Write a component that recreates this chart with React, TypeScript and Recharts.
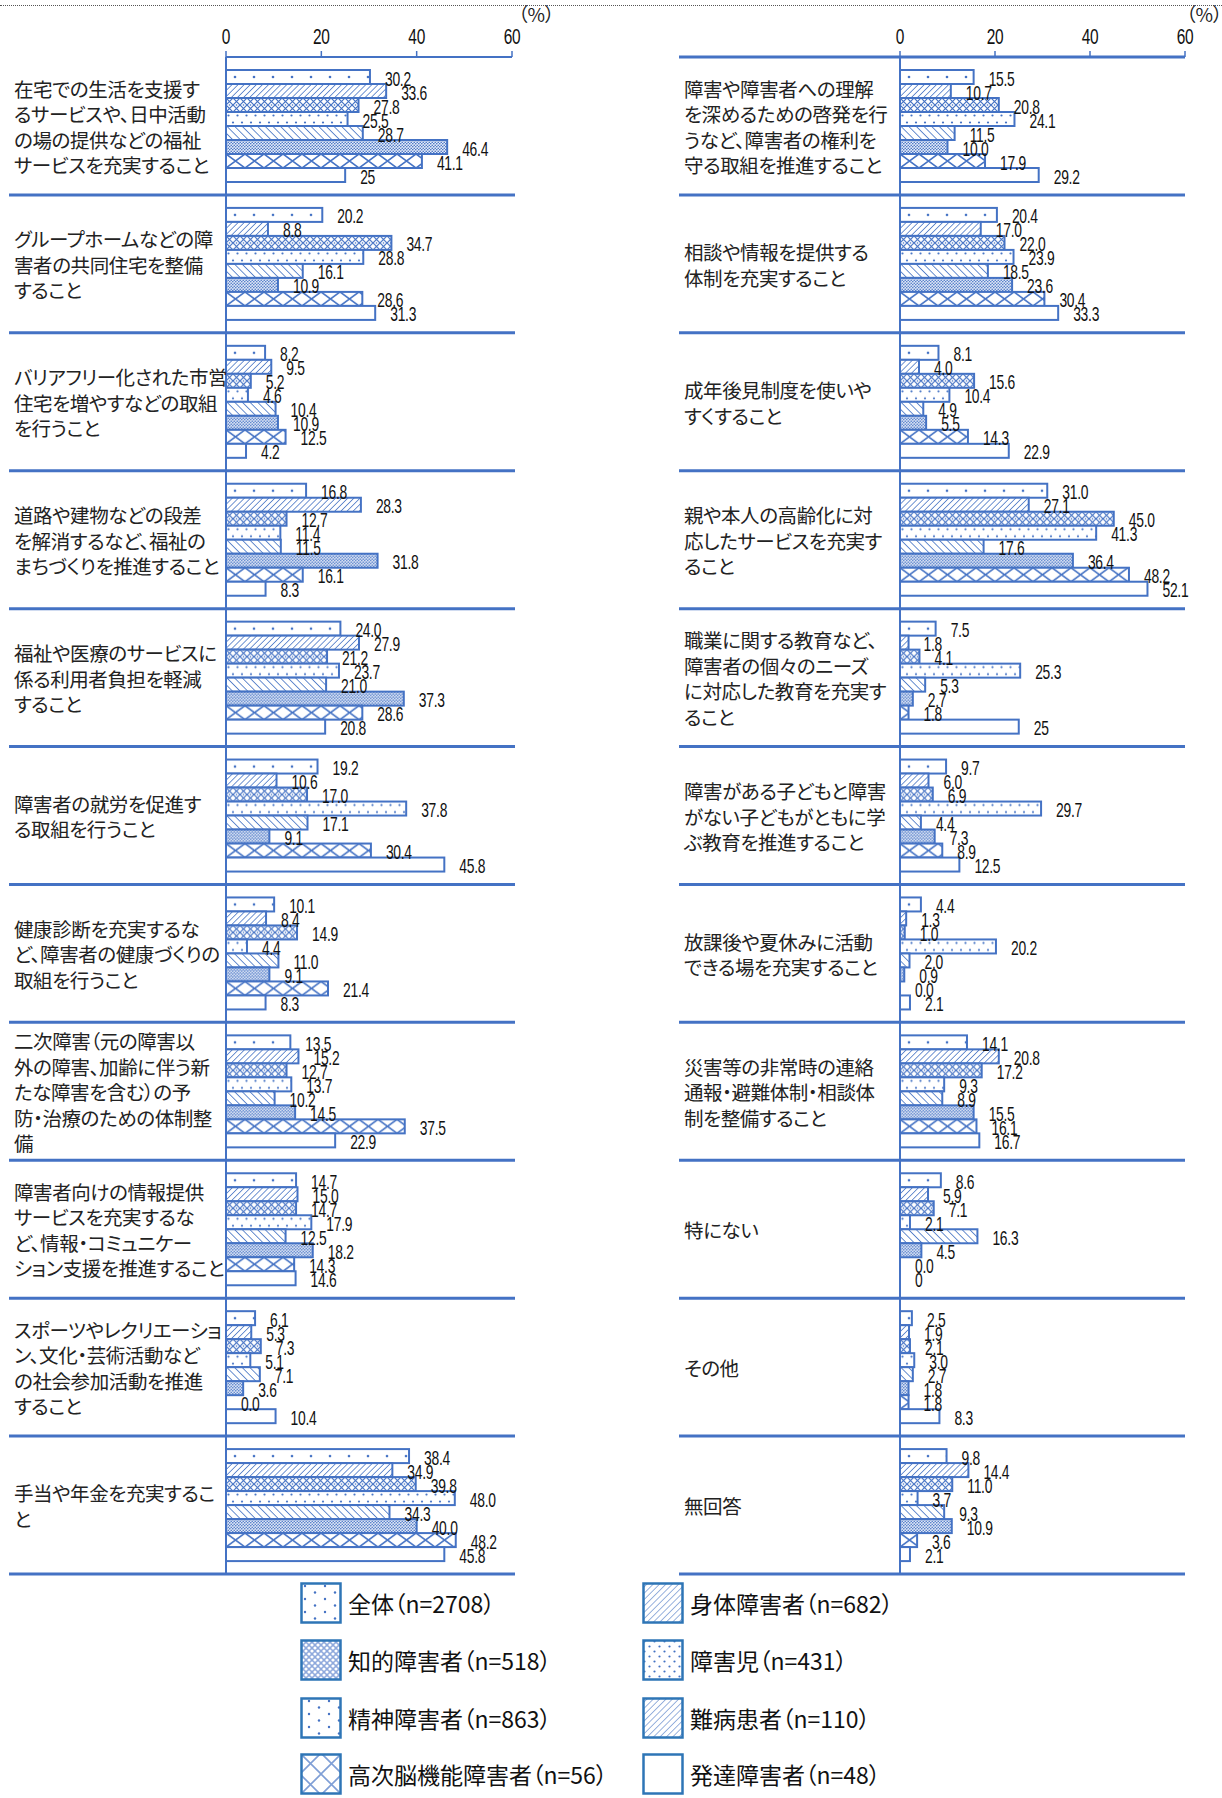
import React from "react";
import { BarChart, Bar, XAxis, YAxis, LabelList } from "recharts";

const BLUE = "#4472C4";
const NUMFONT = "'Liberation Sans', Arial, sans-serif";
const JP = "'Noto Sans CJK JP', 'Noto Sans CJK SC', sans-serif";

const seriesKeys = ["all", "body", "intel", "child", "mental", "rare", "brain", "dev"];
const seriesNames = [
  "全体（n=2708）",
  "身体障害者（n=682）",
  "知的障害者（n=518）",
  "障害児（n=431）",
  "精神障害者（n=863）",
  "難病患者（n=110）",
  "高次脳機能障害者（n=56）",
  "発達障害者（n=48）",
];
const xTicks = [0, 20, 40, 60];

const leftCategories = [
  "在宅での生活を支援す\nるサービスや、日中活動\nの場の提供などの福祉\nサービスを充実すること",
  "グループホームなどの障\n害者の共同住宅を整備\nすること",
  "バリアフリー化された市営\n住宅を増やすなどの取組\nを行うこと",
  "道路や建物などの段差\nを解消するなど、福祉の\nまちづくりを推進すること",
  "福祉や医療のサービスに\n係る利用者負担を軽減\nすること",
  "障害者の就労を促進す\nる取組を行うこと",
  "健康診断を充実するな\nど、障害者の健康づくりの\n取組を行うこと",
  "二次障害（元の障害以\n外の障害、加齢に伴う新\nたな障害を含む）の予\n防・治療のための体制整\n備",
  "障害者向けの情報提供\nサービスを充実するな\nど、情報・コミュニケー\nション支援を推進すること",
  "スポーツやレクリエーショ\nン、文化・芸術活動など\nの社会参加活動を推進\nすること",
  "手当や年金を充実するこ\nと",
];
const leftAll = [30.2, 20.2, 8.2, 16.8, 24.0, 19.2, 10.1, 13.5, 14.7, 6.1, 38.4];
const leftBody = [33.6, 8.8, 9.5, 28.3, 27.9, 10.6, 8.4, 15.2, 15.0, 5.3, 34.9];
const leftIntel = [27.8, 34.7, 5.2, 12.7, 21.2, 17.0, 14.9, 12.7, 14.7, 7.3, 39.8];
const leftChild = [25.5, 28.8, 4.6, 11.4, 23.7, 37.8, 4.4, 13.7, 17.9, 5.1, 48.0];
const leftMental = [28.7, 16.1, 10.4, 11.5, 21.0, 17.1, 11.0, 10.2, 12.5, 7.1, 34.3];
const leftRare = [46.4, 10.9, 10.9, 31.8, 37.3, 9.1, 9.1, 14.5, 18.2, 3.6, 40.0];
const leftBrain = [41.1, 28.6, 12.5, 16.1, 28.6, 30.4, 21.4, 37.5, 14.3, 0.0, 48.2];
const leftDev = [25, 31.3, 4.2, 8.3, 20.8, 45.8, 8.3, 22.9, 14.6, 10.4, 45.8];

const rightCategories = [
  "障害や障害者への理解\nを深めるための啓発を行\nうなど、障害者の権利を\n守る取組を推進すること",
  "相談や情報を提供する\n体制を充実すること",
  "成年後見制度を使いや\nすくすること",
  "親や本人の高齢化に対\n応したサービスを充実す\nること",
  "職業に関する教育など、\n障害者の個々のニーズ\nに対応した教育を充実す\nること",
  "障害がある子どもと障害\nがない子どもがともに学\nぶ教育を推進すること",
  "放課後や夏休みに活動\nできる場を充実すること",
  "災害等の非常時の連絡\n通報・避難体制・相談体\n制を整備すること",
  "特にない",
  "その他",
  "無回答",
];
const rightAll = [15.5, 20.4, 8.1, 31.0, 7.5, 9.7, 4.4, 14.1, 8.6, 2.5, 9.8];
const rightBody = [10.7, 17.0, 4.0, 27.1, 1.8, 6.0, 1.3, 20.8, 5.9, 1.9, 14.4];
const rightIntel = [20.8, 22.0, 15.6, 45.0, 4.1, 6.9, 1.0, 17.2, 7.1, 2.1, 11.0];
const rightChild = [24.1, 23.9, 10.4, 41.3, 25.3, 29.7, 20.2, 9.3, 2.1, 3.0, 3.7];
const rightMental = [11.5, 18.5, 4.9, 17.6, 5.3, 4.4, 2.0, 8.9, 16.3, 2.7, 9.3];
const rightRare = [10.0, 23.6, 5.5, 36.4, 2.7, 7.3, 0.9, 15.5, 4.5, 1.8, 10.9];
const rightBrain = [17.9, 30.4, 14.3, 48.2, 1.8, 8.9, 0.0, 16.1, 0.0, 1.8, 3.6];
const rightDev = [29.2, 33.3, 22.9, 52.1, 25, 12.5, 2.1, 16.7, 0, 8.3, 2.1];

const buildRows = (cats: string[], cols: number[][]) =>
  cats.map((name, i) => {
    const row: any = { name };
    seriesKeys.forEach((k, s) => (row[k] = cols[s][i]));
    return row;
  });

const leftData = buildRows(leftCategories, [leftAll, leftBody, leftIntel, leftChild, leftMental, leftRare, leftBrain, leftDev]);
const rightData = buildRows(rightCategories, [rightAll, rightBody, rightIntel, rightChild, rightMental, rightRare, rightBrain, rightDev]);

// plot area: y 57..1574, 11 groups
const BAND = (1574 - 57) / 11;

function BarPatterns({ id }: { id: string }) {
  return (
    <defs>
      <pattern id={`${id}0`} width={19} height={14} patternUnits="userSpaceOnUse">
        <rect width={19} height={14} fill="#fff" />
        <circle cx={9} cy={7} r={1.3} fill={BLUE} />
      </pattern>
      <pattern id={`${id}1`} width={4.3} height={4.3} patternUnits="userSpaceOnUse" patternTransform="rotate(45)">
        <rect width={4.3} height={4.3} fill="#fff" />
        <line x1={0} y1={0} x2={0} y2={4.3} stroke={BLUE} strokeWidth={1.5} />
      </pattern>
      <pattern id={`${id}2`} width={7} height={7} patternUnits="userSpaceOnUse">
        <rect width={7} height={7} fill="#fff" />
        <path d="M0,0 L7,7 M7,0 L0,7" stroke={BLUE} strokeWidth={1.2} />
        <circle cx={3.5} cy={0} r={0.8} fill={BLUE} />
        <circle cx={3.5} cy={7} r={0.8} fill={BLUE} />
      </pattern>
      <pattern id={`${id}3`} width={9} height={14} patternUnits="userSpaceOnUse">
        <rect width={9} height={14} fill="#fff" />
        <circle cx={2.5} cy={3.5} r={1.1} fill={BLUE} />
        <circle cx={7} cy={10.5} r={1.1} fill={BLUE} />
      </pattern>
      <pattern id={`${id}4`} width={5.4} height={5.4} patternUnits="userSpaceOnUse" patternTransform="rotate(-45)">
        <rect width={5.4} height={5.4} fill="#fff" />
        <line x1={0} y1={0} x2={0} y2={5.4} stroke={BLUE} strokeWidth={1.6} />
      </pattern>
      <pattern id={`${id}5`} width={3} height={3} patternUnits="userSpaceOnUse">
        <rect width={3} height={3} fill="#e6ecf8" />
        <circle cx={0.75} cy={0.75} r={0.8} fill={BLUE} />
        <circle cx={2.25} cy={2.25} r={0.8} fill={BLUE} />
      </pattern>
      <pattern id={`${id}6`} width={19} height={14} patternUnits="userSpaceOnUse">
        <rect width={19} height={14} fill="#fff" />
        <path d="M0,0 L19,14 M0,14 L19,0" stroke={BLUE} strokeWidth={1.6} />
      </pattern>
      <pattern id={`${id}7`} width={4} height={4} patternUnits="userSpaceOnUse">
        <rect width={4} height={4} fill="#fff" />
      </pattern>
    </defs>
  );
}

const makeShape = (i: number, id: string) => (props: any) => {
  const { x, y, width, height } = props;
  if (!width || width <= 0.5) return <g />;
  return (
    <g transform={`translate(${x},${y})`}>
      <rect x={0} y={0} width={width} height={height} fill={`url(#${id}${i})`} stroke={BLUE} strokeWidth={2} />
    </g>
  );
};

function NarrowText(props: { x: number; y: number; size: number; sx: number; anchor?: string; children: any }) {
  const { x, y, size, sx, anchor, children } = props;
  return (
    <text
      transform={`translate(${x},${y}) scale(${sx},1)`}
      x={0}
      y={0}
      textAnchor={anchor || "start"}
      fontFamily={NUMFONT}
      fontSize={size}
      letterSpacing={-0.4}
      fill="#111"
    >
      {children}
    </text>
  );
}

const makeLabel = (i: number) => (props: any) => {
  const vb = props.viewBox || {};
  const x = Number(vb.x ?? props.x);
  const y = Number(vb.y ?? props.y);
  const w = Number(vb.width ?? props.width ?? 0);
  const h = Number(vb.height ?? props.height ?? 14);
  const v = Number(props.value);
  const text = i === 7 ? String(v) : v.toFixed(1);
  return (
    <NarrowText x={x + w + 15} y={y + h / 2 + 8.5} size={21} sx={0.66}>
      {text}
    </NarrowText>
  );
};

function XTick(props: any) {
  const { x, payload } = props;
  return (
    <NarrowText x={x} y={44} size={21.5} sx={0.72} anchor="middle">
      {payload.value}
    </NarrowText>
  );
}

const makeCatTick = (labelX: number, sepX1: number, sepX2: number, topLine: boolean) => (props: any) => {
  const { y, payload } = props;
  const index = props.index ?? payload?.index ?? 0;
  const lines = String(payload.value).split("\n");
  const lh = 25.5;
  const first = y + 2 - ((lines.length - 1) * lh) / 2 + 7;
  return (
    <g>
      {topLine && index === 0 && (
        <line x1={sepX1} x2={sepX2} y1={y - BAND / 2} y2={y - BAND / 2} stroke={BLUE} strokeWidth={3} />
      )}
      <line x1={sepX1} x2={sepX2} y1={y + BAND / 2} y2={y + BAND / 2} stroke={BLUE} strokeWidth={3} />
      <text
        fontFamily={JP}
        fontSize={19.5}
        letterSpacing={-0.4}
        fill="#222"
        style={{ fontFeatureSettings: '"palt"' }}
      >
        {lines.map((ln, k) => (
          <tspan key={k} x={labelX} y={first + k * lh}>
            {ln}
          </tspan>
        ))}
      </text>
    </g>
  );
};

function Panel(props: {
  data: any[];
  left: number;
  width: number;
  margin: { top: number; right: number; bottom: number; left: number };
  id: string;
  labelX: number;
  sepX1: number;
  sepX2: number;
  topLine: boolean;
}) {
  const { data, left, width, margin, id, labelX, sepX1, sepX2, topLine } = props;
  return (
    <div style={{ position: "absolute", left, top: 0 }}>
      <BarChart width={width} height={1600} data={data} layout="vertical" margin={margin} barCategoryGap={13} barGap={0}>
        <BarPatterns id={id} />
        <XAxis
          type="number"
          domain={[0, 60]}
          ticks={xTicks}
          orientation="top"
          height={30}
          axisLine={{ stroke: BLUE, strokeWidth: 2 }}
          tickLine={{ stroke: BLUE, strokeWidth: 1.5 }}
          tickSize={6}
          tick={<XTick />}
        />
        <YAxis
          type="category"
          dataKey="name"
          width={60}
          interval={0}
          axisLine={{ stroke: BLUE, strokeWidth: 2 }}
          tickLine={false}
          tick={makeCatTick(labelX, sepX1, sepX2, topLine)}
        />
        {seriesKeys.map((k, i) => (
          <Bar key={k} dataKey={k} isAnimationActive={false} shape={makeShape(i, id)}>
            <LabelList dataKey={k} content={makeLabel(i)} />
          </Bar>
        ))}
      </BarChart>
    </div>
  );
}

function LegendIcon({ i }: { i: number }) {
  const id = `lg${i}`;
  const LB = "#2E75B6";
  const LIGHT = "#7F9FD6";
  let pat: React.ReactNode = null;
  if (i === 0 || i === 4) {
    pat = (
      <pattern id={id} width={20} height={13} patternUnits="userSpaceOnUse" x={i === 4 ? 4 : 0}>
        <rect width={20} height={13} fill="#fff" />
        <circle cx={5} cy={4} r={1.2} fill={BLUE} />
        <circle cx={15} cy={10.5} r={1.2} fill={BLUE} />
      </pattern>
    );
  } else if (i === 1 || i === 5) {
    pat = (
      <pattern id={id} width={4.5} height={4.5} patternUnits="userSpaceOnUse" patternTransform="rotate(45)">
        <rect width={4.5} height={4.5} fill="#fff" />
        <line x1={0} y1={0} x2={0} y2={4.5} stroke={LIGHT} strokeWidth={1.6} />
      </pattern>
    );
  } else if (i === 2) {
    pat = (
      <pattern id={id} width={6} height={6} patternUnits="userSpaceOnUse">
        <rect width={6} height={6} fill="#8FA9DC" />
        <circle cx={0} cy={0} r={1.6} fill="#fff" />
        <circle cx={6} cy={0} r={1.6} fill="#fff" />
        <circle cx={0} cy={6} r={1.6} fill="#fff" />
        <circle cx={6} cy={6} r={1.6} fill="#fff" />
        <circle cx={3} cy={3} r={1.6} fill="#fff" />
      </pattern>
    );
  } else if (i === 3) {
    pat = (
      <pattern id={id} width={10} height={10} patternUnits="userSpaceOnUse">
        <rect width={10} height={10} fill="#fff" />
        <circle cx={2.5} cy={2.5} r={1.1} fill={BLUE} />
        <circle cx={7.5} cy={7.5} r={1.1} fill={BLUE} />
      </pattern>
    );
  } else if (i === 6) {
    pat = (
      <pattern id={id} width={21} height={21} patternUnits="userSpaceOnUse">
        <rect width={21} height={21} fill="#fff" />
        <path d="M0,0 L21,21 M0,21 L21,0" stroke={LIGHT} strokeWidth={1.6} />
      </pattern>
    );
  }
  return (
    <svg width={42} height={42} style={{ display: "block", flex: "none" }}>
      <defs>{pat}</defs>
      <rect x={1.5} y={1.5} width={39} height={39} fill={pat ? `url(#${id})` : "#fff"} stroke={LB} strokeWidth={2.5} />
    </svg>
  );
}

const legendRows = [1582, 1639, 1697, 1753];
const legendCols = [300, 642];

export default function App() {
  return (
    <div
      style={{
        position: "absolute",
        left: 0,
        top: 0,
        width: 1222,
        height: 1798,
        background: "#fff",
        overflow: "hidden",
      }}
    >
      <div style={{ position: "absolute", left: 0, top: 5, width: 1222, borderTop: "1px dotted #555" }} />
      <div style={{ position: "absolute", left: 518, top: 0, fontFamily: JP, fontSize: 19, color: "#222", fontFeatureSettings: '"palt"' }}>
        （%）
      </div>
      <div style={{ position: "absolute", left: 1186, top: 0, fontFamily: JP, fontSize: 19, color: "#222", fontFeatureSettings: '"palt"', whiteSpace: "nowrap" }}>
        （%）
      </div>

      <Panel
        data={leftData}
        left={0}
        width={620}
        margin={{ top: 27, right: 108, bottom: 26, left: 166 }}
        id="pl"
        labelX={14}
        sepX1={9}
        sepX2={515}
        topLine={false}
      />
      <Panel
        data={rightData}
        left={600}
        width={622}
        margin={{ top: 27, right: 37, bottom: 26, left: 240 }}
        id="pr"
        labelX={84}
        sepX1={79}
        sepX2={585}
        topLine={true}
      />

      {seriesNames.map((name, i) => (
        <div
          key={name}
          style={{
            position: "absolute",
            left: legendCols[i % 2],
            top: legendRows[Math.floor(i / 2)],
            display: "flex",
            alignItems: "center",
            whiteSpace: "nowrap",
          }}
        >
          <LegendIcon i={i} />
          <span
            style={{
              marginLeft: 6,
              fontFamily: JP,
              fontSize: 23,
              color: "#111",
              fontFeatureSettings: '"palt"',
            }}
          >
            {name}
          </span>
        </div>
      ))}
    </div>
  );
}
